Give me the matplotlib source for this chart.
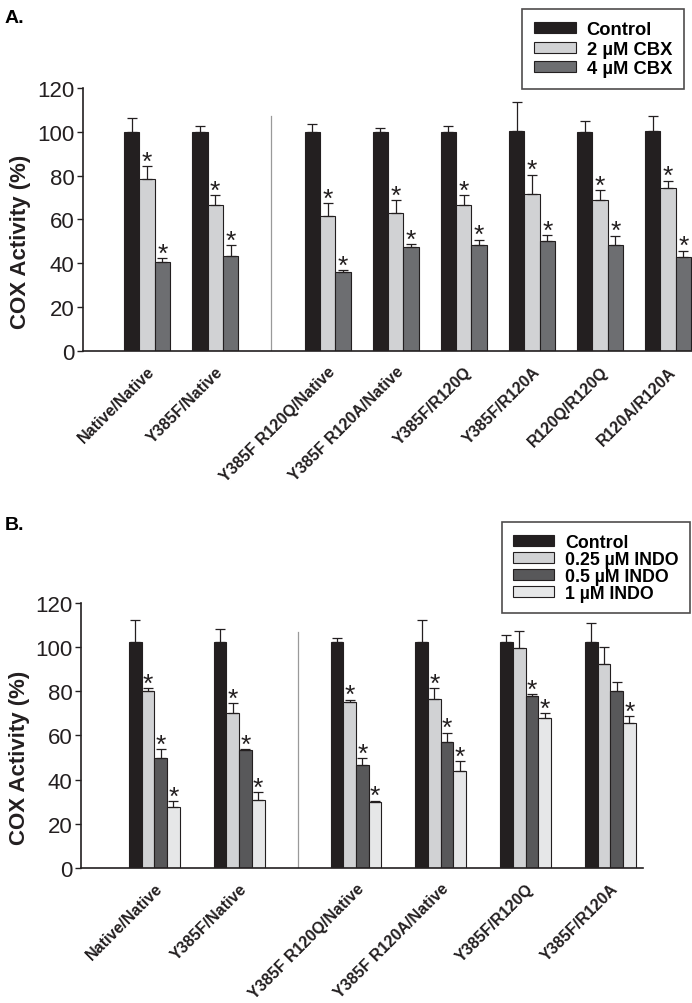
import matplotlib
matplotlib.use("Agg")
import matplotlib.pyplot as plt

# ---- panel A data (CBX) ----
groups_a = ["Native/Native", "Y385F/Native", "Y385F R120Q/Native", "Y385F R120A/Native",
            "Y385F/R120Q", "Y385F/R120A", "R120Q/R120Q", "R120A/R120A"]
series_a = ["Control", "2 \u00b5M CBX", "4 \u00b5M CBX"]
control_a = [100, 100, 100, 100, 100, 100.5, 100, 100.5]
cbx2_a = [78.6, 66.6, 61.4, 63.1, 66.6, 71.4, 68.9, 74.5]
cbx4_a = [40.8, 43.2, 36.2, 47.4, 48.3, 50.1, 48.4, 43.1]
control_a_err = [6.1, 2.7, 3.5, 1.8, 2.7, 12.9, 4.9, 6.7]
cbx2_a_err = [5.9, 4.4, 6.0, 5.8, 4.4, 9.1, 4.6, 3.2]
cbx4_a_err = [1.5, 5.2, 0.6, 1.3, 2.5, 2.8, 4.2, 2.7]
sig_a = [[False] * 8, [True] * 8, [True] * 8]

# ---- panel B data (INDO) ----
groups_b = ["Native/Native", "Y385F/Native", "Y385F R120Q/Native", "Y385F R120A/Native",
            "Y385F/R120Q", "Y385F/R120A"]
series_b = ["Control", "0.25 \u00b5M INDO", "0.5 \u00b5M INDO", "1 \u00b5M INDO"]
control_b = [102.5, 102.5, 102.5, 102.3, 102.5, 102.5]
indo025_b = [80.2, 70.0, 75.2, 76.4, 99.6, 92.3]
indo05_b = [49.6, 53.5, 46.8, 56.9, 77.8, 79.9]
indo1_b = [27.6, 30.9, 30.0, 43.9, 68.1, 65.6]
control_b_err = [9.6, 5.6, 1.4, 9.8, 2.8, 8.2]
indo025_b_err = [1.1, 4.5, 1.0, 5.1, 7.5, 7.6]
indo05_b_err = [4.2, 0.3, 2.8, 4.4, 0.9, 4.1]
indo1_b_err = [2.6, 3.4, 0.5, 4.5, 1.9, 3.0]
sig_b = [[False] * 6,
         [True, True, True, True, False, False],
         [True, True, True, True, True, False],
         [True, True, True, True, True, True]]

yticks = [0, 20, 40, 60, 80, 100, 120]

tick_font = ['Liberation Sans Narrow', 'Liberation Sans', 'DejaVu Sans']
bold_font = ['Liberation Sans', 'DejaVu Sans']
ink = '#231f20'


def draw_panel(ax, pos, groups, series, values, errs, sig, colors, width, xlim, sep_x, label_x):
    n = len(series)
    for k in range(n):
        xs = [p + (k - (n - 1) / 2.0) * width for p in pos]
        ax.bar(xs, values[k], width=width, color=colors[k], edgecolor=ink,
               linewidth=0.8, label=series[k], zorder=2)
        ax.errorbar(xs, values[k], yerr=[[0] * len(xs), errs[k]], fmt='none',
                    ecolor=ink, elinewidth=0.9, capsize=3.5, capthick=0.9, zorder=3)
        for x, v, e, s in zip(xs, values[k], errs[k], sig[k]):
            if s:
                ax.text(x, v + e - 1.2, '*', ha='center', va='baseline', fontsize=19,
                        family=bold_font, color=ink)
    ax.axvline(sep_x, ymin=0, ymax=107 / 120.0, color='#9a9a9a', linewidth=0.9, zorder=1)
    ax.set_xlim(*xlim)
    ax.set_ylim(0, 120)
    ax.set_yticks(yticks)
    ax.set_yticklabels([str(t) for t in yticks], family=tick_font, fontsize=16, color=ink)
    ax.tick_params(axis='y', direction='out', length=4, width=1, color=ink, pad=2)
    ax.set_xticks(pos)
    ax.set_xticklabels(groups, rotation=45, ha='right', va='top', rotation_mode='anchor',
                       family=bold_font, fontweight='bold', fontsize=11.5, color=ink)
    ax.tick_params(axis='x', length=0, pad=9)
    for side in ['top', 'right']:
        ax.spines[side].set_visible(False)
    for side in ['left', 'bottom']:
        ax.spines[side].set_color(ink)
        ax.spines[side].set_linewidth(1.2)
    ax.set_ylabel("COX Activity (%)", family=bold_font, fontweight='bold', fontsize=16,
                  color=ink)
    ax.yaxis.set_label_coords(label_x, 0.42)


def add_legend(ax, anchor, spacing, size):
    leg = ax.legend(loc='upper right', bbox_to_anchor=anchor, bbox_transform=fig.transFigure,
                    borderaxespad=0, prop={'family': bold_font, 'weight': 'bold', 'size': size},
                    frameon=True, fancybox=False, edgecolor=ink, handlelength=2.3,
                    handleheight=0.55, labelspacing=spacing, borderpad=0.65, handletextpad=0.6)
    leg.get_frame().set_linewidth(1.2)
    return leg


fig = plt.figure(figsize=(6.92, 10.04), dpi=100)

# panel A
ax_a = fig.add_axes([0.12, 0.6494, 0.88, 0.262])
pos_a = [0, 1, 2.65, 3.65, 4.65, 5.65, 6.65, 7.65]
draw_panel(ax_a, pos_a, groups_a, series_a, [control_a, cbx2_a, cbx4_a],
           [control_a_err, cbx2_a_err, cbx4_a_err], sig_a,
           [ink, '#d1d2d4', '#6d6e71'], 0.225, (-0.94, 8.0), 1.825, -0.085)
add_legend(ax_a, (0.9884, 0.990), 0.14, 13.2)
fig.text(0.007, 0.99, "A.", family=bold_font, fontweight='bold', fontsize=14, va='top')

# panel B
ax_b = fig.add_axes([0.117, 0.1345, 0.812, 0.264])
pos_b = [0, 1, 2.38, 3.38, 4.38, 5.38]
draw_panel(ax_b, pos_b, groups_b, series_b, [control_b, indo025_b, indo05_b, indo1_b],
           [control_b_err, indo025_b_err, indo05_b_err, indo1_b_err], sig_b,
           [ink, '#d1d2d4', '#58585a', '#e6e7e8'], 0.15, (-0.866, 5.765), 1.69, -0.09)
add_legend(ax_b, (0.997, 0.479), 0.0, 12.8)
fig.text(0.007, 0.485, "B.", family=bold_font, fontweight='bold', fontsize=14, va='top')

fig.savefig("out.png", dpi=100)
